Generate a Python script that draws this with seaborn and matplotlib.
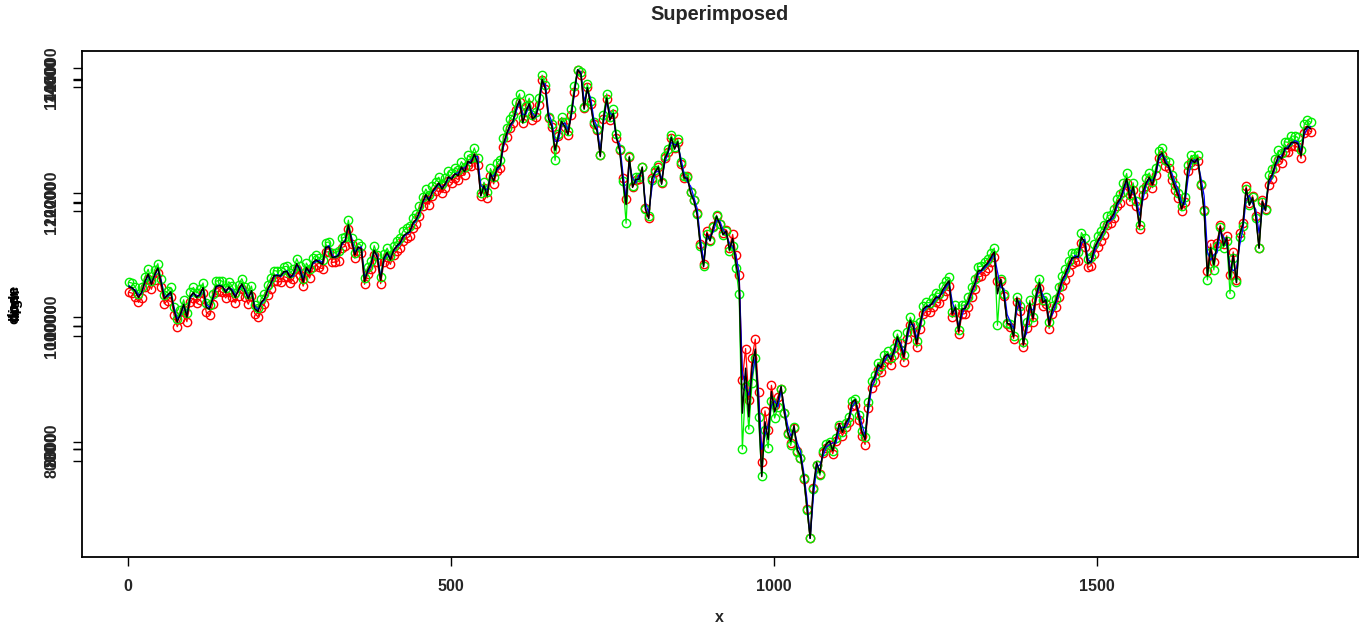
import numpy as np
import pandas as pd
import matplotlib
matplotlib.use("Agg")
import matplotlib.pyplot as plt
import seaborn as sns

sns.set_theme(style="white")
plt.rcParams["font.family"] = ["Liberation Sans", "DejaVu Sans"]

# Index values sampled every fifth trading day (one value per week), 2005 - early 2012
close = [
    # 2005
    10630, 10620, 10560, 10460, 10550, 10720, 10840, 10670, 10830, 10940,
    10700, 10440, 10500, 10550, 10250, 10060, 10190, 10350, 10140, 10470,
    10540, 10460, 10510, 10620, 10300, 10270, 10450, 10640, 10650, 10640,
    10540, 10630, 10560, 10460, 10590, 10680, 10560, 10440, 10570, 10280,
    10230, 10380, 10440, 10590, 10690, 10820, 10810, 10810, 10880, 10880,
    10780,
    # 2006
    10850, 11010, 10900, 10710, 10950, 10860, 11030, 11070, 11030, 11000,
    11280, 11280, 11110, 11120, 11140, 11350, 11370, 11640, 11380, 11150,
    11280, 11250, 10720, 10900, 11000, 11230, 11100, 10740, 11100, 11190,
    11070, 11230, 11300, 11350, 11460, 11500, 11530, 11670, 11730, 11850,
    12010, 12130, 12030, 12180, 12250, 12320, 12220, 12310, 12420, 12380,
    # 2007
    12470, 12440, 12580, 12500, 12670, 12640, 12790, 12650, 12110, 12280,
    12110, 12480, 12350, 12560, 12610, 12960, 13120, 13260, 13330, 13540,
    13670, 13300, 13490, 13610, 13360, 13410, 13610, 14000, 13850, 13360,
    13240, 12850, 13080, 13320, 13240, 13110, 13440, 13820, 14160, 14090,
    13520, 13870, 13600, 13270, 13170, 12750, 13370, 13700, 13340, 13450,
    # 2008
    13060, 12850, 12350, 11970, 12740, 12250, 12380, 12380, 12570, 11890,
    11740, 12390, 12500, 12580, 12300, 12720, 12830, 13060, 12870, 12990,
    12620, 12400, 12400, 12150, 12030, 11800, 11290, 10960, 11500, 11380,
    11600, 11780, 11650, 11480, 11540, 11230, 11420, 11020, 10700, 8580,
    9310, 8520, 9330, 9620, 8690, 7550, 8440, 8150, 8930, 8600, 8780,
    # 2009
    9015, 8600, 8280, 8120, 8380, 7990, 7890, 7550, 7060, 6547,
    7400, 7780, 7610, 7980, 8080, 8130, 7970, 8180, 8410, 8270,
    8420, 8500, 8760, 8800, 8540, 8280, 8150, 8740, 9070, 9170,
    9370, 9320, 9500, 9540, 9440, 9610, 9820, 9670, 9490, 9860,
    10090, 9970, 9710, 10020, 10270, 10320, 10310, 10390, 10470, 10450,
    # 2010
    10580, 10660, 10730, 10190, 10300, 9910, 10270, 10280, 10400, 10560,
    10690, 10890, 10900, 10970, 11020, 11110, 11200, 10520, 10750, 10510,
    10040, 10020, 9820, 10450, 10290, 9690, 10020, 10370, 10120, 10500,
    10700, 10380, 10420, 10010, 10270, 10390, 10570, 10740, 10840, 10970,
    11100, 11110, 11130, 11440, 11360, 11010, 11050, 11260, 11370, 11460, 11560,
    # 2011
    11700, 11730, 11820, 11990, 12060, 12230, 12390, 12070, 12260, 11980,
    11610, 12170, 12320, 12410, 12290, 12500, 12760, 12810, 12640, 12600,
    12400, 12250, 12120, 11900, 12050, 12560, 12700, 12650, 12720, 12300,
    11870, 10810, 11270, 10990, 11320, 11610, 11300, 11430, 10770, 11150,
    10700, 11480, 11650, 12230, 11960, 12080, 11770, 11260, 12020, 11870,
    # 2012
    12360, 12450, 12620, 12760, 12710, 12890, 12880, 12980, 12980, 12960,
    12760, 13180, 13240, 13200,
]

low = [
    # 2005
    10560, 10550, 10490, 10370, 10480, 10650, 10770, 10590, 10760, 10860,
    10610, 10360, 10420, 10480, 10160, 9970, 10110, 10280, 10060, 10400,
    10480, 10390, 10450, 10550, 10230, 10190, 10380, 10580, 10590, 10580,
    10470, 10570, 10500, 10390, 10520, 10620, 10490, 10370, 10500, 10200,
    10150, 10300, 10370, 10520, 10630, 10750, 10740, 10750, 10810, 10820,
    10710,
    # 2006
    10770, 10940, 10820, 10620, 10870, 10780, 10950, 11000, 10950, 10920,
    11200, 11210, 11030, 11040, 11060, 11270, 11290, 11560, 11270, 11040,
    11190, 11150, 10630, 10800, 10910, 11150, 11000, 10650, 11010, 11110,
    10990, 11150, 11230, 11280, 11390, 11430, 11460, 11600, 11660, 11780,
    11940, 12060, 11960, 12110, 12180, 12250, 12140, 12240, 12350, 12310,
    # 2007
    12400, 12370, 12500, 12420, 12600, 12560, 12720, 12560, 11990, 12170,
    12010, 12390, 12260, 12480, 12530, 12880, 13040, 13190, 13250, 13460,
    13590, 13200, 13390, 13520, 13250, 13300, 13520, 13890, 13730, 13220,
    13110, 12520, 12950, 13210, 13130, 12990, 13340, 13720, 13977, 13940,
    13380, 13750, 13480, 13140, 13030, 12600, 13250, 13590, 13220, 13340,
    # 2008
    12950, 12710, 12190, 11510, 12590, 12110, 12250, 12250, 12420, 11740,
    11630, 12210, 12360, 12440, 12170, 12590, 12710, 12930, 12740, 12860,
    12490, 12270, 12260, 12010, 11880, 11660, 11150, 10830, 11330, 11230,
    11450, 11640, 11500, 11320, 11380, 11060, 11150, 10790, 10370, 7880,
    8900, 8200, 8950, 9350, 8400, 7449, 8180, 7900, 8650, 8380, 8560,
    # 2009
    8850, 8460, 8120, 7940, 8230, 7830, 7740, 7410, 6900, 6448,
    7240, 7620, 7460, 7850, 7960, 7990, 7850, 8060, 8270, 8150,
    8300, 8390, 8650, 8690, 8430, 8170, 8080, 8630, 8970, 9070,
    9270, 9220, 9400, 9450, 9340, 9510, 9730, 9580, 9400, 9770,
    10000, 9870, 9620, 9930, 10180, 10240, 10230, 10310, 10390, 10380,
    # 2010
    10500, 10580, 10640, 10080, 10200, 9800, 10190, 10200, 10330, 10490,
    10620, 10810, 10820, 10890, 10940, 11030, 11110, 9870, 10610, 10370,
    9900, 9890, 9700, 10330, 10180, 9600, 9920, 10270, 10010, 10410,
    10620, 10280, 10330, 9930, 10180, 10300, 10490, 10670, 10770, 10900,
    11030, 11030, 11050, 11360, 11280, 10930, 10970, 11170, 11300, 11390, 11490,
    # 2011
    11620, 11650, 11740, 11900, 11980, 12150, 12310, 11970, 12160, 11870,
    11480, 12060, 12230, 12320, 12180, 12400, 12670, 12720, 12530, 12490,
    12290, 12130, 12000, 11780, 11940, 12450, 12600, 12540, 12610, 12140,
    11700, 10600, 11050, 10760, 11150, 11450, 11120, 11230, 10380, 10950,
    10560, 11290, 11460, 12060, 11800, 11930, 11600, 11110, 11850, 11720,
    # 2012
    12290, 12380, 12550, 12680, 12640, 12820, 12810, 12910, 12910, 12890,
    12680, 13100, 13170, 13130,
]

high = [
    # 2005
    10700, 10690, 10630, 10540, 10610, 10780, 10910, 10750, 10900, 11010,
    10790, 10520, 10570, 10620, 10340, 10150, 10270, 10420, 10230, 10540,
    10610, 10530, 10580, 10690, 10380, 10340, 10520, 10710, 10720, 10700,
    10610, 10700, 10630, 10530, 10650, 10750, 10630, 10510, 10640, 10360,
    10310, 10450, 10510, 10660, 10760, 10880, 10880, 10870, 10950, 10940,
    10850,
    # 2006
    10920, 11080, 10980, 10800, 11020, 10930, 11100, 11140, 11100, 11080,
    11350, 11350, 11180, 11190, 11210, 11420, 11440, 11710, 11470, 11250,
    11360, 11340, 10830, 10990, 11080, 11300, 11180, 10840, 11180, 11260,
    11150, 11300, 11370, 11420, 11530, 11570, 11600, 11740, 11800, 11920,
    12080, 12200, 12110, 12250, 12320, 12390, 12300, 12380, 12490, 12450,
    # 2007
    12540, 12510, 12650, 12580, 12740, 12720, 12860, 12740, 12250, 12380,
    12220, 12570, 12440, 12640, 12690, 13030, 13190, 13330, 13410, 13620,
    13750, 13410, 13590, 13700, 13460, 13510, 13700, 14100, 13960, 13490,
    13360, 13000, 13210, 13430, 13350, 13230, 13540, 13920, 14272, 14190,
    13660, 13990, 13720, 13400, 13300, 12900, 13480, 13800, 13470, 13560,
    # 2008
    13180, 12990, 12530, 12200, 12870, 12390, 12510, 12520, 12710, 12060,
    11900, 12540, 12630, 12710, 12450, 12850, 12950, 13180, 13010, 13120,
    12760, 12540, 12560, 12310, 12190, 11970, 11470, 11150, 11680, 11540,
    11760, 11920, 11800, 11650, 11700, 11420, 11630, 11300, 10980, 9300,
    9800, 8980, 9650, 9950, 9100, 7980, 8800, 8500, 9210, 8890, 9030,
    # 2009
    9150, 8760, 8450, 8280, 8530, 8150, 8040, 7700, 7220, 6756,
    7560, 7930, 7780, 8120, 8210, 8260, 8110, 8310, 8540, 8400,
    8540, 8620, 8870, 8900, 8660, 8390, 8260, 8840, 9170, 9270,
    9460, 9420, 9590, 9630, 9540, 9700, 9910, 9770, 9590, 9950,
    10180, 10070, 9820, 10110, 10350, 10400, 10390, 10470, 10550, 10530,
    # 2010
    10650, 10730, 10800, 10300, 10390, 10030, 10350, 10360, 10470, 10620,
    10750, 10950, 10960, 11040, 11090, 11180, 11260, 10880, 10880, 10640,
    10200, 10150, 9960, 10540, 10400, 9820, 10130, 10450, 10230, 10580,
    10770, 10480, 10510, 10120, 10350, 10460, 10630, 10800, 10900, 11030,
    11160, 11180, 11200, 11500, 11430, 11100, 11130, 11320, 11430, 11520, 11620,
    # 2011
    11780, 11810, 11900, 12080, 12140, 12310, 12460, 12160, 12350, 12080,
    11720, 12260, 12400, 12500, 12380, 12580, 12850, 12900, 12730, 12690,
    12500, 12350, 12220, 12010, 12150, 12650, 12790, 12750, 12810, 12420,
    12020, 11050, 11480, 11180, 11500, 11780, 11480, 11610, 10980, 11350,
    10900, 11650, 11820, 12400, 12130, 12250, 11930, 11420, 12190, 12030,
    # 2012
    12430, 12520, 12690, 12830, 12780, 12960, 12950, 13050, 13050, 13030,
    12850, 13250, 13310, 13280,
]

open_ = [
    # 2005
    10650, 10600, 10580, 10500, 10520, 10700, 10810, 10700, 10800, 10920,
    10740, 10480, 10470, 10530, 10300, 10110, 10160, 10320, 10180, 10440,
    10520, 10490, 10480, 10600, 10350, 10290, 10420, 10610, 10660, 10630,
    10570, 10600, 10590, 10490, 10560, 10660, 10590, 10470, 10540, 10320,
    10260, 10350, 10420, 10560, 10670, 10790, 10830, 10790, 10860, 10890,
    10800,
    # 2006
    10800, 10980, 10940, 10760, 10910, 10890, 11000, 11040, 11060, 11020,
    11240, 11300, 11150, 11100, 11170, 11310, 11390, 11600, 11430, 11200,
    11240, 11280, 10790, 10860, 10970, 11200, 11140, 10790, 11060, 11160,
    11110, 11200, 11280, 11320, 11430, 11480, 11510, 11640, 11700, 11820,
    11980, 12100, 12060, 12150, 12220, 12300, 12250, 12280, 12390, 12400,
    # 2007
    12460, 12480, 12540, 12560, 12630, 12680, 12750, 12740, 12280, 12220,
    12200, 12420, 12430, 12520, 12580, 12900, 13080, 13220, 13300, 13480,
    13630, 13420, 13430, 13580, 13450, 13380, 13560, 13930, 13920, 13450,
    13300, 12990, 12990, 13250, 13290, 13180, 13380, 13760, 14150, 14110,
    13650, 13800, 13700, 13350, 13230, 12850, 13290, 13640, 13450, 13400,
    # 2008
    13030, 12950, 12480, 12060, 12620, 12400, 12310, 12440, 12500, 12000,
    11820, 12230, 12480, 12510, 12380, 12640, 12800, 12970, 12940, 12930,
    12710, 12450, 12330, 12260, 12080, 11900, 11420, 11050, 11400, 11450,
    11520, 11700, 11700, 11560, 11480, 11340, 11270, 11150, 10850, 9250,
    8990, 8870, 9180, 9480, 8940, 7990, 8230, 8380, 8700, 8780, 8680,
    # 2009
    8950, 8680, 8390, 8210, 8300, 8100, 7960, 7630, 7190, 6550,
    7220, 7700, 7740, 7880, 8030, 8070, 8100, 8090, 8330, 8350,
    8350, 8460, 8680, 8770, 8620, 8400, 8220, 8600, 8990, 9120,
    9290, 9360, 9420, 9520, 9500, 9550, 9760, 9720, 9560, 9780,
    10020, 10020, 9800, 9950, 10220, 10290, 10340, 10350, 10430, 10490,
    # 2010
    10520, 10620, 10690, 10390, 10210, 10000, 10160, 10320, 10350, 10520,
    10650, 10830, 10880, 10930, 10990, 11070, 11150, 10870, 10620, 10600,
    10180, 10060, 9950, 10250, 10400, 9780, 9870, 10280, 10250, 10430,
    10650, 10500, 10380, 10100, 10180, 10340, 10500, 10700, 10790, 10920,
    11060, 11140, 11100, 11330, 11400, 11080, 11020, 11180, 11340, 11420, 11530,
    # 2011
    11670, 11700, 11760, 11930, 12040, 12160, 12340, 12200, 12150, 12060,
    11790, 12030, 12280, 12380, 12350, 12440, 12690, 12780, 12700, 12560,
    12470, 12320, 12200, 12000, 11960, 12380, 12640, 12690, 12660, 12400,
    12100, 11200, 11060, 11150, 11180, 11520, 11440, 11320, 10950, 10890,
    10930, 11300, 11560, 12050, 12110, 11980, 11880, 11500, 11860, 11960,
    # 2012
    12300, 12400, 12580, 12700, 12760, 12840, 12910, 12940, 13000, 12980,
    12830, 13100, 13200, 13230,
]

day = np.arange(1, 5 * len(close), 5)

y_ticks = [8000, 10000, 12000, 14000]
x_ticks = [0, 500, 1000, 1500]


def padded_range(values):
    lo, hi = float(np.min(values)), float(np.max(values))
    pad = 0.04 * (hi - lo)
    return lo - pad, hi + pad


W, H = 1366, 630
fig = plt.figure(figsize=(W / 100, H / 100), dpi=100)
left, right, top, bottom = 81.5, 1358, 51, 557
rect = [left / W, 1 - bottom / H, (right - left) / W, (bottom - top) / H]

# each series gets its own y scale, all stacked in the same frame
layers = [
    ("high", high, "#ff0000", True),
    ("low", low, "#00f000", True),
    ("open", open_, "#0000ff", False),
    ("close", close, "#000000", False),
]

tick_font = dict(fontsize=11.5, fontweight="bold")

for k, (name, vals, col, circles) in enumerate(layers):
    ax = fig.add_axes(rect, label=name)
    ax.set_facecolor("white" if k == 0 else "none")
    df = pd.DataFrame({"x": day, "y": vals})
    if circles:
        sns.lineplot(data=df, x="x", y="y", ax=ax, color=col, linewidth=0.9,
                     marker="o", markersize=6.0, markerfacecolor="none",
                     markeredgecolor=col, markeredgewidth=1.0, errorbar=None)
    else:
        sns.lineplot(data=df, x="x", y="y", ax=ax, color=col,
                     linewidth=1.1 if name == "close" else 0.9, errorbar=None)
    ax.set_xlim(padded_range(day))
    ax.set_ylim(padded_range(vals))
    ax.set_yticks(y_ticks)
    ax.set_yticklabels([str(t) for t in y_ticks], **tick_font)
    ax.tick_params(axis="y", left=True, direction="out", length=6.5, width=1,
                   color="black", pad=9.5, labelrotation=90)
    for lab in ax.get_yticklabels():
        lab.set_va("center")
    ax.set_ylabel(name, fontsize=11, fontweight="bold", color="black")
    ax.yaxis.set_label_coords(-0.047, 0.5)
    if k == 0:
        ax.set_xticks(x_ticks)
        ax.set_xticklabels([str(t) for t in x_ticks], **tick_font)
        ax.tick_params(axis="x", bottom=True, direction="out", length=6.5,
                       width=1, color="black", pad=9.5)
        for s in ax.spines.values():
            s.set_visible(True)
            s.set_color("black")
            s.set_linewidth(1.3)
    else:
        ax.tick_params(axis="x", bottom=False, labelbottom=False)
        for s in ax.spines.values():
            s.set_visible(False)
    ax.set_xlabel("")
    ax.grid(False)

fig.text((left + right) / 2 / W, 1 - 15 / H, "Superimposed", ha="center",
         va="center", fontsize=14.3, fontweight="bold")
fig.text((left + right) / 2 / W, 1 - 618 / H, "x", ha="center", va="center",
         fontsize=11.5, fontweight="bold")

fig.savefig("out.png", dpi=100)
